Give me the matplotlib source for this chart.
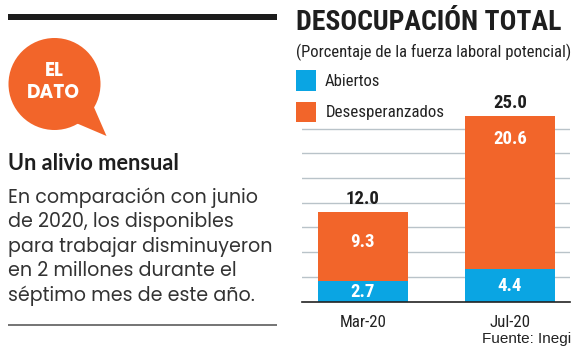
import matplotlib
matplotlib.use('Agg')
import matplotlib.pyplot as plt
from matplotlib.patches import Circle, Polygon, Rectangle

W, H = 580, 355

months = ['Mar-20', 'Jul-20']
abiertos = [2.7, 4.4]
desesperanzados = [9.3, 20.6]
totales = ['12.0', '25.0']
grid_vals = [3.33, 6.66, 10.0, 13.3, 16.65, 19.95, 23.3]
body_lines = ['En comparación con junio', 'de 2020, los disponibles', 'para trabajar disminuyeron',
              'en 2 millones durante el', 'séptimo mes de este año.']

ORANGE = '#f2652a'
BLUE = '#0aa5e3'
NARROW = ['Roboto Condensed', 'Roboto', 'DejaVu Sans']
WIDE = ['Poppins', 'Lato', 'DejaVu Sans']

fig = plt.figure(figsize=(W/100, H/100), dpi=100, facecolor='white')

# page layer, in pixels
bg = fig.add_axes([0, 0, 1, 1])
bg.set_xlim(0, W)
bg.set_ylim(H, 0)
bg.axis('off')

bg.add_patch(Rectangle((8, 13.5), 269, 6, color='#1c1c1c', lw=0))
bg.add_patch(Rectangle((8, 323.5), 269, 2, color='#777777', lw=0))

# speech bubble
bg.add_patch(Circle((54.5, 84), 46, color=ORANGE, lw=0))
bg.add_patch(Polygon([(93, 105), (106.5, 136), (76, 123)], color=ORANGE, lw=0))
bg.text(54, 71.5, 'EL', color='white', fontsize=13.4, fontweight='bold', family=WIDE, ha='center', va='center')
bg.text(53, 93.5, 'DATO', color='white', fontsize=13.4, fontweight='bold', family=WIDE, ha='center', va='center')

bg.text(8.5, 163, 'Un alivio mensual', color='#1e1e1e', fontsize=15.7, fontweight='bold', family='Lato', ha='left', va='center')
for i, line in enumerate(body_lines):
    bg.text(8.5, 197.5 + i*24.6, line, color='#333333', fontsize=13.7, family=WIDE, ha='left', va='center')

# headings
bg.text(296, 23, 'DESOCUPACIÓN TOTAL', color='#1e1e1e', fontsize=20, fontweight='bold', family=NARROW, ha='left', va='center')
bg.text(295.5, 52, '(Porcentaje de la fuerza laboral potencial)', color='#222222', fontsize=12, family=NARROW, ha='left', va='center')

# legend
bg.add_patch(Rectangle((295.5, 70), 20.5, 20.5, color=BLUE, lw=0))
bg.add_patch(Rectangle((295.5, 101.5), 20.5, 20.5, color=ORANGE, lw=0))
bg.text(325, 81.5, 'Abiertos', color='#222222', fontsize=12, family=NARROW, ha='left', va='center')
bg.text(326, 112.5, 'Desesperanzados', color='#222222', fontsize=12.2, family=NARROW, ha='left', va='center')

bg.text(571, 338.5, 'Fuente: Inegi', color='#222222', fontsize=11, family='Liberation Sans', ha='right', va='center')

# chart
px_unit = 185.5/25
px_cat = 147.2
left, right, base = 301.7, 570, 301.5
ax = fig.add_axes([left/W, (H-base)/H, (right-left)/W, base/H])
ax.patch.set_alpha(0)
ax.set_xlim((left-362.8)/px_cat, (right-362.8)/px_cat)
ax.set_ylim(0, base/px_unit)
for side in ['top', 'right', 'left']:
    ax.spines[side].set_visible(False)
ax.spines['bottom'].set_color('#222222')
ax.spines['bottom'].set_linewidth(1.2)
ax.set_yticks(grid_vals)
ax.tick_params(axis='both', length=0)
ax.set_yticklabels([])
ax.grid(axis='y', color='#b9c3c9', linewidth=1)
ax.set_axisbelow(True)

x = [0, 1]
ax.bar(x, abiertos, width=0.61, color=BLUE)
ax.bar(x, desesperanzados, width=0.61, bottom=abiertos, color=ORANGE)
for i in x:
    ax.text(i, abiertos[i]/2 - 0.1, f'{abiertos[i]}', color='white', fontsize=13.5, fontweight='bold', family=NARROW, ha='center', va='center')
    ax.text(i, abiertos[i] + desesperanzados[i]/2 + (0.65 if i == 0 else 7.15), f'{desesperanzados[i]}', color='white', fontsize=13.5, fontweight='bold', family=NARROW, ha='center', va='center')
    ax.text(i, abiertos[i] + desesperanzados[i] + 1.75, totales[i], color='#1e1e1e', fontsize=13.5, fontweight='bold', family=NARROW, ha='center', va='center')

ax.set_xticks(x)
ax.set_xticklabels(months, fontsize=12.2, color='#222222', family=NARROW)
ax.tick_params(axis='x', pad=9.5)

fig.savefig('out.png', dpi=100)
